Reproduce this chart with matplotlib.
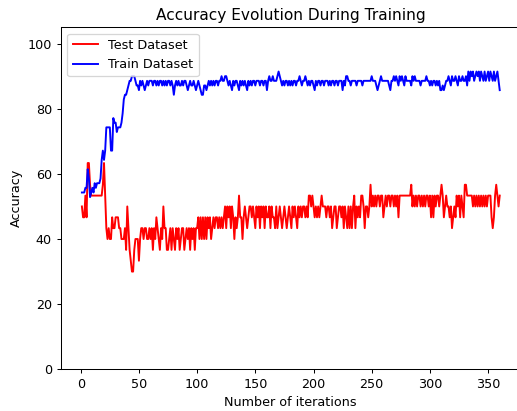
import numpy as np
import matplotlib.pyplot as plt

# correct predictions per evaluation, test set has 30 samples, train set 70
test_size = 30
train_size = 70

test_correct = [
    15, 14, 14, 16, 14, 19, 19, 17, 16, 16, 16, 16, 16, 16, 16, 16, 16, 16, 17, 19,
    16, 13, 12, 13, 12, 12, 14, 13, 13, 14, 14, 14, 13, 13, 12, 12, 12, 13, 11, 15,
    13, 11, 10, 9, 9, 11, 12, 12, 12, 10, 12, 13, 13, 12, 13, 13, 12, 12, 13, 12,
    13, 11, 13, 12, 14, 13, 12, 11, 13, 12, 15, 13, 13, 11, 11, 12, 13, 11, 13, 12,
    11, 13, 12, 13, 11, 12, 13, 13, 11, 12, 13, 12, 13, 11, 13, 12, 13, 11, 13, 13,
    14, 12, 14, 12, 14, 12, 14, 12, 14, 13, 14, 12, 13, 14, 13, 14, 14, 13, 14, 13,
    14, 13, 14, 15, 13, 15, 14, 15, 13, 15, 14, 12, 14, 13, 14, 16, 14, 14, 12, 14,
    15, 14, 13, 14, 15, 15, 14, 15, 14, 13, 15, 14, 15, 13, 15, 14, 15, 13, 15, 14,
    14, 15, 13, 15, 14, 14, 13, 15, 13, 14, 15, 14, 13, 14, 15, 14, 13, 14, 15, 14,
    13, 15, 14, 15, 14, 13, 15, 14, 15, 14, 15, 15, 14, 15, 14, 16, 16, 15, 16, 15,
    14, 15, 14, 15, 14, 15, 16, 15, 15, 15, 14, 15, 15, 14, 15, 13, 14, 15, 15, 13,
    14, 15, 15, 14, 15, 13, 15, 14, 13, 15, 13, 15, 13, 15, 16, 13, 15, 14, 15, 14,
    16, 16, 15, 13, 15, 15, 14, 15, 17, 15, 16, 15, 16, 15, 16, 16, 15, 16, 16, 14,
    15, 16, 15, 16, 16, 15, 16, 16, 15, 16, 15, 16, 14, 16, 16, 16, 16, 16, 16, 16,
    16, 16, 16, 17, 15, 16, 15, 16, 15, 16, 16, 15, 16, 15, 16, 15, 16, 16, 15, 16,
    14, 16, 14, 16, 15, 16, 16, 15, 16, 17, 16, 14, 15, 16, 15, 15, 14, 15, 13, 14,
    15, 14, 16, 15, 16, 14, 16, 15, 14, 17, 17, 16, 16, 16, 16, 16, 15, 16, 15, 16,
    15, 16, 15, 16, 15, 16, 15, 16, 15, 16, 16, 16, 14, 13, 14, 16, 17, 16, 15, 16,
]

train_correct = [
    38, 38, 38, 39, 39, 43, 41, 37, 38, 39, 38, 40, 39, 40, 40, 40, 41, 45, 47, 45,
    47, 52, 52, 52, 52, 47, 47, 54, 53, 53, 51, 52, 52, 52, 53, 55, 58, 59, 59, 60,
    61, 62, 62, 63, 63, 63, 62, 61, 61, 60, 62, 61, 62, 61, 60, 61, 62, 61, 62, 62,
    62, 61, 62, 62, 61, 62, 61, 62, 62, 61, 62, 61, 62, 61, 62, 62, 61, 62, 61, 59,
    61, 62, 61, 62, 61, 61, 62, 61, 62, 62, 61, 60, 61, 62, 61, 61, 62, 61, 60, 61,
    62, 61, 60, 59, 59, 61, 61, 60, 61, 62, 61, 62, 61, 62, 61, 62, 62, 61, 62, 62,
    63, 62, 62, 63, 63, 62, 61, 62, 61, 60, 62, 61, 62, 62, 61, 60, 62, 61, 62, 61,
    62, 61, 60, 62, 61, 62, 61, 62, 62, 61, 62, 62, 62, 61, 62, 62, 61, 62, 62, 60,
    62, 63, 62, 62, 63, 62, 62, 62, 63, 64, 63, 62, 61, 62, 61, 62, 62, 61, 62, 61,
    62, 61, 62, 62, 61, 62, 62, 63, 62, 61, 62, 62, 63, 62, 61, 62, 61, 62, 62, 61,
    60, 62, 61, 62, 62, 61, 62, 62, 61, 62, 62, 62, 61, 62, 61, 62, 62, 61, 62, 62,
    61, 62, 62, 62, 60, 62, 61, 63, 63, 62, 62, 61, 62, 62, 62, 62, 61, 62, 62, 62,
    62, 61, 62, 62, 62, 62, 62, 62, 62, 63, 62, 62, 62, 61, 60, 61, 62, 63, 62, 62,
    62, 62, 62, 62, 61, 60, 62, 62, 63, 62, 63, 62, 61, 63, 62, 63, 62, 61, 63, 62,
    62, 62, 62, 61, 63, 62, 63, 62, 62, 62, 62, 61, 62, 62, 62, 62, 63, 62, 62, 61,
    62, 61, 62, 62, 61, 62, 61, 62, 60, 60, 61, 60, 61, 62, 62, 63, 62, 61, 63, 62,
    62, 63, 62, 61, 63, 62, 62, 63, 62, 62, 63, 61, 64, 62, 64, 63, 64, 62, 63, 64,
    63, 64, 62, 64, 63, 62, 64, 62, 63, 64, 62, 64, 63, 62, 64, 62, 63, 64, 62, 60,
]

test_acc = np.array(test_correct) * 100 / test_size
train_acc = np.array(train_correct) * 100 / train_size
iterations = np.arange(1, len(test_acc) + 1)

dpi = 92
fig = plt.figure(figsize=(517 / dpi, 411 / dpi), dpi=dpi)
ax = fig.add_axes([0.118, 0.1015, 0.889, 0.832])
ax.plot(iterations, test_acc, color="red", label="Test Dataset")
ax.plot(iterations, train_acc, color="blue", label="Train Dataset")
ax.set_ylim(0, 105)
ax.set_xlabel("Number of iterations")
ax.set_ylabel("Accuracy")
ax.set_title("Accuracy Evolution During Training")
ax.legend(loc="upper left")
fig.savefig("out.png", dpi=dpi)
